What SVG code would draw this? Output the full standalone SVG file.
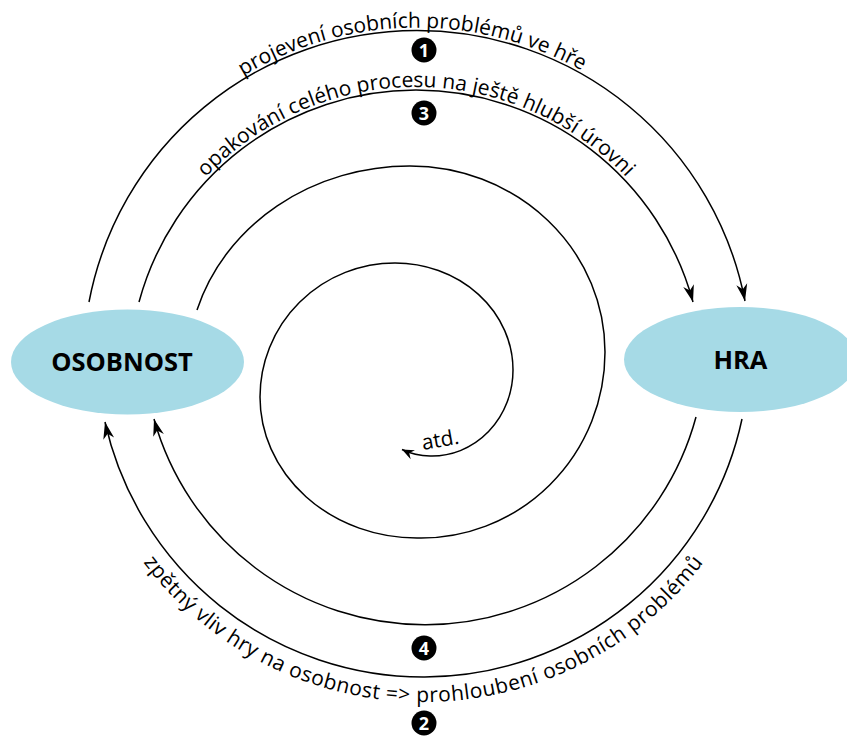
<svg xmlns="http://www.w3.org/2000/svg" width="847" height="740" viewBox="0 0 847 740">
<defs>
<style>
.line{fill:none;stroke:#000;stroke-width:1.5}
.node{fill:#a6dae6}
.nlabel{font-family:"Open Sans","DejaVu Sans",sans-serif;font-weight:bold;font-size:25.5px;fill:#000;text-anchor:middle}
.alabel{font-family:"Open Sans","DejaVu Sans",sans-serif;font-size:21px;fill:#000}
.badge{fill:#000}
.bnum{font-family:"Open Sans","DejaVu Sans",sans-serif;font-weight:bold;font-size:18px;fill:#fff;text-anchor:middle}
</style>
<marker id="arr" markerUnits="userSpaceOnUse" viewBox="-18 -7 19 14" markerWidth="19" markerHeight="14" refX="0" refY="0" orient="auto">
<path d="M0,0 L-17,-5.5 L-12,0 L-17,5.5 Z" fill="#000"/>
</marker>
<marker id="arrS" markerUnits="userSpaceOnUse" viewBox="-13 -6 14 12" markerWidth="14" markerHeight="12" refX="0" refY="0" orient="auto">
<path d="M0,0 L-12,-5 L-8,0 L-12,5 Z" fill="#000"/>
</marker>
<path id="tp1" d="M 80 364.5 A 337 337 0 0 1 754 364.5"/>
<path id="tp3" d="M 126 377 A 290 290 0 0 1 706 377"/>
<path id="tp2" d="M 72.5 351 A 351 351 0 0 0 774.5 351"/>
</defs>
<rect width="847" height="740" fill="#fff"/>
<g id="osobnost">
<ellipse cx="127.5" cy="362" rx="116.5" ry="52.5" class="node"/>
<text x="122" y="371" class="nlabel">OSOBNOST</text>
</g>
<g id="hra">
<ellipse cx="740.5" cy="359.5" rx="116.5" ry="52.5" class="node"/>
<text x="740.5" y="369" class="nlabel">HRA</text>
</g>
<g id="connectors">
<path class="line" marker-end="url(#arr)" d="M 89 302 A 334 334 0 0 1 745 301"/>
<path class="line" marker-end="url(#arr)" d="M 139 302 A 287 287 0 0 1 693 302"/>
<path class="line" marker-end="url(#arr)" d="M 742 419 A 326 326 0 0 1 105 422"/>
<path class="line" marker-end="url(#arr)" d="M 696 417 A 281 281 0 0 1 154 419"/>
<path class="line" marker-end="url(#arrS)" d="M 197 310 A 222 202 0 0 1 410 166 A 195 186 0 0 1 605 352 A 184 186 0 0 1 417 538 A 157 141 0 0 1 260 397 A 135 134 0 0 1 395 263 A 118 107 0 0 1 513 370 A 81 86 0 0 1 430 456 A 70 75 0 0 1 402 449.5"/>
</g>
<g id="labels">
<text class="alabel" font-size="21.5"><textPath href="#tp1" startOffset="49.5%" text-anchor="middle">projevení osobních problémů ve hře</textPath></text>
<text class="alabel"><textPath href="#tp3" startOffset="50%" text-anchor="middle">opakování celého procesu na ještě hlubší úrovni</textPath></text>
<text class="alabel" font-size="22.5" letter-spacing="0.5"><textPath href="#tp2" startOffset="50%" text-anchor="middle">zpětný vliv hry na osobnost =&gt; prohloubení osobních problémů</textPath></text>
<text class="alabel" font-size="22" transform="translate(423,450) rotate(-10)">atd.</text>
</g>
<g id="badges">
<circle class="badge" cx="424" cy="50" r="12.5"/><text class="bnum" x="424" y="56.5">1</text>
<circle class="badge" cx="424" cy="113" r="12.5"/><text class="bnum" x="424" y="119.5">3</text>
<circle class="badge" cx="424" cy="648" r="12.5"/><text class="bnum" x="424" y="654.5">4</text>
<circle class="badge" cx="424" cy="723" r="12.5"/><text class="bnum" x="424" y="729.5">2</text>
</g>
</svg>
